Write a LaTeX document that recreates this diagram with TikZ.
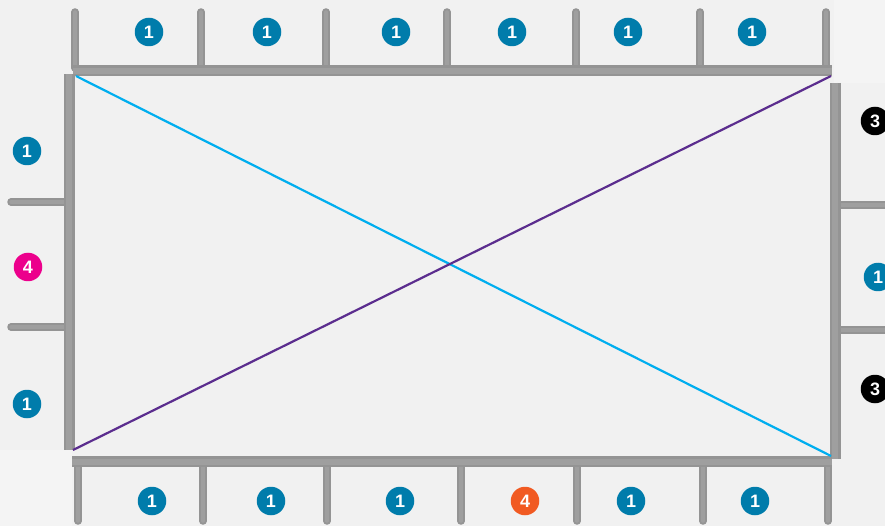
\documentclass[tikz,border=0pt]{standalone}
\usepackage{fontspec}
\setmainfont{Liberation Sans}
\definecolor{bg}{HTML}{F1F1F1}
\definecolor{wallc}{HTML}{949494}
\definecolor{wallm}{HTML}{9F9F9F}
\definecolor{cornerc}{HTML}{F4F4F4}
\definecolor{bluec}{HTML}{007CAB}
\definecolor{pinkc}{HTML}{EC008C}
\definecolor{orangec}{HTML}{F15A22}
\definecolor{skyc}{HTML}{00AEEF}
\definecolor{purplec}{HTML}{5B2D8E}
\tikzset{
  wallthick/.style={draw=wallc,line width=2.5pt,double=wallm,double distance=6pt},
  wallthin/.style={draw=wallc,line width=2pt,double=wallm,double distance=3.5pt,line cap=round},
  badge/.style={circle,minimum size=28.5pt,inner sep=0pt,text=white,font=\fontsize{18}{18}\selectfont\bfseries},
  bb/.style={badge,fill=bluec},
  bk/.style={badge,fill=black},
  bp/.style={badge,fill=pinkc},
  bo/.style={badge,fill=orangec},
  diag/.style={line width=2.2pt}
}
\begin{document}
\begin{tikzpicture}[x=1pt,y=-1pt]
\useasboundingbox (0,0) rectangle (885,526);
\fill[bg] (0,0) rectangle (885,526);
% corners
\fill[cornerc] (834,0) rectangle (885,83);
\fill[cornerc] (0,450) rectangle (72,526);
% corner points
\coordinate (TL) at (76,76);
\coordinate (TR) at (831,76);
\coordinate (BL) at (73,450);
\coordinate (BR) at (831,456);
% top wall
\coordinate (t0) at (73,71); \coordinate (t7) at (832,71);
\foreach \n/\x in {1/75,2/201,3/326,4/447,5/576,6/700,7/826}{
  \coordinate (ta\n) at (\x,12); \coordinate (tb\n) at (\x,68);
  \draw[wallthin] (ta\n) -- (tb\n);
}
\draw[wallthick] (t0) -- (t7);
% left wall
\coordinate (l0) at (69,74); \coordinate (l1) at (69,450);
\foreach \n/\y in {1/202,2/327}{
  \coordinate (la\n) at (11,\y); \coordinate (lb\n) at (66,\y);
  \draw[wallthin] (la\n) -- (lb\n);
}
\draw[wallthick] (l0) -- (l1);
% right wall
\coordinate (r0) at (835,83); \coordinate (r1) at (835,459);
\foreach \n/\y in {1/205,2/330}{
  \coordinate (ra\n) at (838,\y); \coordinate (rb\n) at (890,\y);
  \draw[wallthin] (ra\n) -- (rb\n);
}
\draw[wallthick] (r0) -- (r1);
% bottom wall
\coordinate (b0) at (72,461.5); \coordinate (b7) at (832,461.5);
\foreach \n/\x in {1/78,2/203,3/327,4/461,5/577,6/703,7/828}{
  \coordinate (ba\n) at (\x,464); \coordinate (bb\n) at (\x,521);
  \draw[wallthin] (ba\n) -- (bb\n);
}
\draw[wallthick] (b0) -- (b7);
% diagonals
\draw[diag,skyc] (TL) -- (BR);
\draw[diag,purplec] (BL) -- (TR);
% badges
\node[bb] (n1) at (149,32) {1};
\node[bb] (n2) at (267,32) {1};
\node[bb] (n3) at (396,32) {1};
\node[bb] (n4) at (512,32) {1};
\node[bb] (n5) at (628,32) {1};
\node[bb] (n6) at (752,32) {1};
\node[bb] (n7) at (27,151) {1};
\node[bp] (n8) at (28,267) {4};
\node[bb] (n9) at (27,404) {1};
\node[bk] (n10) at (875,121) {3};
\node[bb] (n11) at (878,277) {1};
\node[bk] (n12) at (875,389) {3};
\node[bb] (n13) at (152,501) {1};
\node[bb] (n14) at (271,501) {1};
\node[bb] (n15) at (400,501) {1};
\node[bo] (n16) at (525,501) {4};
\node[bb] (n17) at (631,501) {1};
\node[bb] (n18) at (755,501) {1};
\end{tikzpicture}
\end{document}
